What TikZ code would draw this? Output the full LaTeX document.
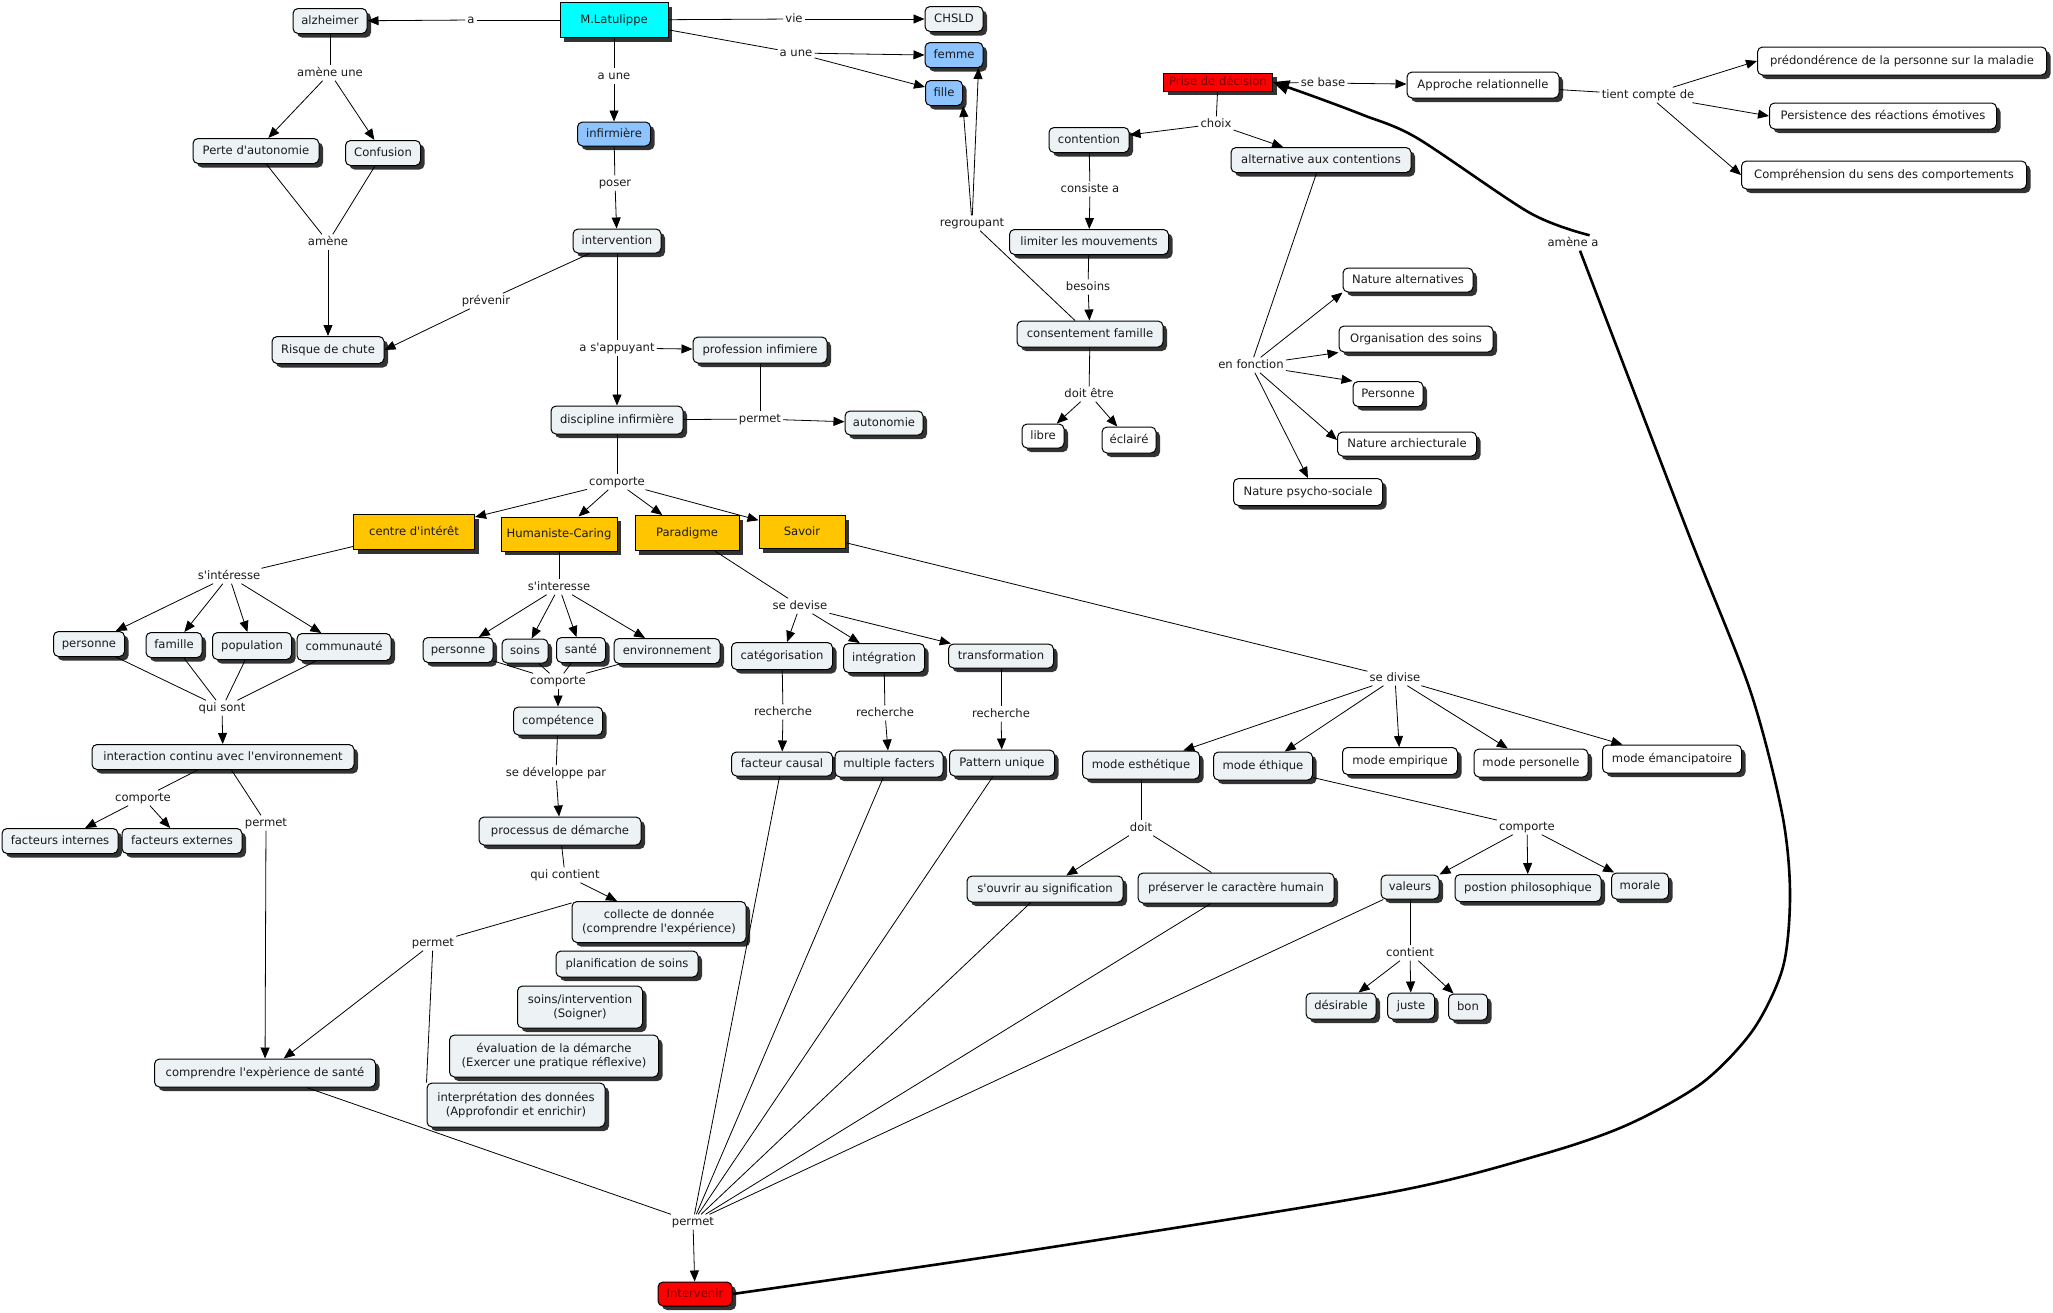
\documentclass[tikz,border=0pt]{standalone}
\usepackage{fontspec}
\newfontfamily\dvs{DejaVu Sans}
\usetikzlibrary{arrows.meta,shadows,calc}
\definecolor{lightc}{HTML}{EDF2F4}
\definecolor{bluec}{HTML}{8DC3FF}
\definecolor{orangec}{HTML}{FFC600}
\definecolor{cyanc}{HTML}{00FFFF}
\definecolor{redc}{HTML}{FF0000}
\definecolor{shadc}{HTML}{333333}
\definecolor{txtc}{HTML}{1A1A1A}
\definecolor{dredc}{HTML}{7A0000}
\newcommand\nf{\dvs\fontsize{11.6}{14}\selectfont}
\newcommand\ap{\textquotesingle{}}
\newcommand\cnode[6]{\node[#1, minimum width=#4pt, minimum height=#5pt] (#2) at (#3) {#6};}
\newcommand\lnode[3]{\node[lbl] (#1) at (#2) {#3};}
\begin{document}
\begin{tikzpicture}[x=1pt,y=-1pt,
 base/.style={draw=black, line width=1pt, font=\nf, text=txtc, inner sep=0pt,
   drop shadow={shadow xshift=4pt, shadow yshift=-4pt, fill=shadc, opacity=1}},
 sl/.style={text height=8.5pt, text depth=2.5pt},
 cpt/.style={base, sl, rounded corners=5pt, fill=lightc},
 wcpt/.style={base, sl, rounded corners=5pt, fill=white},
 bcpt/.style={base, sl, rounded corners=5pt, fill=bluec},
 mcpt/.style={base, rounded corners=5pt, fill=lightc, align=center},
 obox/.style={base, sl, fill=orangec},
 cyanbox/.style={base, sl, fill=cyanc},
 redbox/.style={base, sl, fill=redc, text=dredc},
 redr/.style={redbox, rounded corners=5pt},
 lbl/.style={font=\nf, text=txtc, inner sep=2pt, sl},
 ln/.style={line width=0.8pt, draw=black},
 arr/.style={ln, -{Triangle[length=11pt,width=9pt]}},
 thk/.style={line width=2.6pt, draw=black},
]
\fill[white] (0,0) rectangle (2053,1312);
\path[use as bounding box] (0,0) rectangle (2053,1312);

% ---------- concepts ----------
\cnode{cpt}{alz}{330,21}{74}{25}{alzheimer}
\cnode{cpt}{perte}{256,151}{126}{25}{Perte d\ap autonomie}
\cnode{cpt}{conf}{383,153}{75}{25}{Confusion}
\cnode{cpt}{risque}{328,350}{112}{27}{Risque de chute}
\cnode{cyanbox}{lat}{614,20}{108}{35}{M.Latulippe}
\cnode{cpt}{chsld}{954,19}{58}{25}{CHSLD}
\cnode{bcpt}{femme}{954,55}{58}{25}{femme}
\cnode{bcpt}{fille}{944,93}{37}{25}{fille}
\cnode{bcpt}{inf}{614,134}{73}{24}{infirmière}
\cnode{cpt}{interv}{617,241}{88}{24}{intervention}
\cnode{cpt}{prof}{760,350}{134}{26}{profession infimiere}
\cnode{cpt}{disc}{617,420}{132}{28}{discipline infirmière}
\cnode{cpt}{auto}{884,423}{78}{24}{autonomie}
\cnode{redbox}{prise}{1218,82}{109}{18}{Prise de décision}
\cnode{wcpt}{appr}{1483,85}{152}{26}{Approche relationnelle}
\cnode{wcpt}{pred}{1902,61}{289}{28}{prédondérence de la personne sur la maladie}
\cnode{wcpt}{pers}{1883,116}{227}{26}{Persistence des réactions émotives}
\cnode{wcpt}{compr}{1884,175}{285}{28}{Compréhension du sens des comportements}
\cnode{cpt}{cont}{1089,140}{80}{25}{contention}
\cnode{cpt}{alt}{1321,160}{180}{25}{alternative aux contentions}
\cnode{cpt}{lim}{1089,242}{159}{25}{limiter les mouvements}
\cnode{cpt}{cons}{1090,334}{146}{26}{consentement famille}
\cnode{wcpt}{libre}{1043,436}{42}{24}{libre}
\cnode{wcpt}{ecl}{1129,440}{54}{26}{éclairé}
\cnode{wcpt}{natalt}{1408,280}{130}{24}{Nature alternatives}
\cnode{wcpt}{org}{1416,339}{154}{26}{Organisation des soins}
\cnode{wcpt}{persn}{1388,394}{70}{25}{Personne}
\cnode{wcpt}{natarc}{1407,444}{139}{24}{Nature archiecturale}
\cnode{wcpt}{natpsy}{1308,492}{149}{27}{Nature psycho-sociale}
\cnode{obox}{centre}{414,532}{121}{35}{centre d\ap intérêt}
\cnode{obox}{hum}{559,534}{116}{34}{Humaniste-Caring}
\cnode{obox}{para}{687,533}{104}{35}{Paradigme}
\cnode{obox}{savoir}{802,532}{86}{33}{Savoir}
\cnode{cpt}{pa}{89,644}{71}{25}{personne}
\cnode{cpt}{fam}{174,645}{56}{25}{famille}
\cnode{cpt}{pop}{252,646}{79}{27}{population}
\cnode{cpt}{comm}{344,647}{94}{27}{communauté}
\cnode{cpt}{inter}{223,757}{262}{25}{interaction continu avec l\ap environnement}
\cnode{cpt}{fint}{60,841}{116}{25}{facteurs internes}
\cnode{cpt}{fext}{182,841}{120}{25}{facteurs externes}
\cnode{cpt}{csante}{265,1073}{221}{28}{comprendre l\ap expèrience de santé}
\cnode{cpt}{pb}{458,650}{70}{25}{personne}
\cnode{cpt}{soins}{525,651}{46}{24}{soins}
\cnode{cpt}{sante}{581,650}{49}{25}{santé}
\cnode{cpt}{env}{667,651}{106}{25}{environnement}
\cnode{cpt}{compet}{558,721}{89}{28}{compétence}
\cnode{cpt}{proc}{560,831}{162}{28}{processus de démarche}
\cnode{mcpt}{coll}{659,922}{174}{41}{collecte de donnée\\(comprendre l\ap expérience)}
\cnode{cpt}{plan}{627,964}{142}{26}{planification de soins}
\cnode{mcpt}{soinsint}{580,1007}{125}{42}{soins/intervention\\(Soigner)}
\cnode{mcpt}{eval}{554,1056}{209}{42}{évaluation de la démarche\\(Exercer une pratique réflexive)}
\cnode{mcpt}{interp}{516,1105}{178}{44}{interprétation des données\\(Approfondir et enrichir)}
\cnode{cpt}{categ}{782,656}{101}{27}{catégorisation}
\cnode{cpt}{integ}{884,658}{81}{29}{intégration}
\cnode{cpt}{transf}{1001,656}{105}{24}{transformation}
\cnode{cpt}{fcaus}{782,764}{101}{24}{facteur causal}
\cnode{cpt}{mult}{889,764}{108}{26}{multiple facters}
\cnode{cpt}{patt}{1002,763}{105}{26}{Pattern unique}
\cnode{cpt}{mesth}{1141,765}{117}{28}{mode esthétique}
\cnode{cpt}{meth}{1263,766}{99}{28}{mode éthique}
\cnode{wcpt}{memp}{1400,761}{115}{27}{mode empirique}
\cnode{wcpt}{mpers}{1531,763}{114}{28}{mode personelle}
\cnode{wcpt}{meman}{1672,759}{139}{28}{mode émancipatoire}
\cnode{cpt}{souv}{1045,889}{156}{26}{s\ap ouvrir au signification}
\cnode{cpt}{pres}{1236,888}{196}{30}{préserver le caractère humain}
\cnode{cpt}{val}{1410,887}{58}{24}{valeurs}
\cnode{cpt}{postion}{1528,888}{146}{27}{postion philosophique}
\cnode{cpt}{morale}{1640,886}{57}{26}{morale}
\cnode{cpt}{desir}{1341,1006}{70}{26}{désirable}
\cnode{cpt}{juste}{1411,1006}{47}{26}{juste}
\cnode{cpt}{bon}{1468,1007}{39}{26}{bon}
\cnode{redr}{intervenir}{695,1294}{74}{24}{Intervenir}

% ---------- linking phrases ----------
\lnode{la}{471,20}{a}
\lnode{lvie}{794,19}{vie}
\lnode{laune1}{796,53}{a une}
\lnode{laune2}{614,76}{a une}
\lnode{lamune}{330,73}{amène une}
\lnode{lamene}{328,242}{amène}
\lnode{lposer}{615,183}{poser}
\lnode{lprev}{486,301}{prévenir}
\lnode{lappuy}{617,348}{a s\ap appuyant}
\lnode{lpermet1}{760,419}{permet}
\lnode{lcomp1}{617,482}{comporte}
\lnode{lregroup}{972,223}{regroupant}
\lnode{lchoix}{1216,124}{choix}
\lnode{lsebase}{1323,83}{se base}
\lnode{ltient}{1648,95}{tient compte de}
\lnode{lamenea}{1573,243}{amène a}
\lnode{lconsiste}{1090,189}{consiste a}
\lnode{lbesoins}{1088,287}{besoins}
\lnode{ldoitetre}{1089,394}{doit être}
\lnode{lenf}{1251,365}{en fonction}
\lnode{lsint1}{229,576}{s\ap intéresse}
\lnode{lquisont}{222,708}{qui sont}
\lnode{lcomp2}{143,798}{comporte}
\lnode{lpermet2}{266,823}{permet}
\lnode{lsint2}{559,587}{s\ap interesse}
\lnode{lcomp3}{558,681}{comporte}
\lnode{lsedev}{556,773}{se développe par}
\lnode{lquicont}{565,875}{qui contient}
\lnode{lpermet3}{433,943}{permet}
\lnode{lsedevise}{800,606}{se devise}
\lnode{lrech1}{783,712}{recherche}
\lnode{lrech2}{885,713}{recherche}
\lnode{lrech3}{1001,714}{recherche}
\lnode{lsedivise}{1395,678}{se divise}
\lnode{ldoit}{1141,828}{doit}
\lnode{lcomp4}{1527,827}{comporte}
\lnode{lcontient}{1410,953}{contient}
\lnode{lpermet4}{693,1222}{permet}

% ---------- connectors ----------
\draw[ln] (lat) -- (la); \draw[arr] (la) -- (alz);
\draw[ln] (lat) -- (lvie); \draw[arr] (lvie) -- (chsld);
\draw[ln] (lat) -- (laune1); \draw[arr] (laune1) -- (femme.west); \draw[arr] (laune1) -- ([yshift=6pt]fille.west);
\draw[ln] (lat) -- (laune2); \draw[arr] (laune2) -- (inf);
\draw[ln] (inf) -- (lposer); \draw[arr] (lposer) -- (interv);
\draw[ln] (interv) -- (lprev); \draw[arr] (lprev) -- (risque.east);
\draw[ln] (interv) -- (lappuy); \draw[arr] (lappuy) -- (disc); \draw[arr] (lappuy) -- (prof);
\draw[ln] (prof) -- (lpermet1); \draw[ln] (disc) -- (lpermet1); \draw[arr] (lpermet1) -- (auto);
\draw[ln] (disc) -- (lcomp1);
\draw[arr] (lcomp1) -- (centre); \draw[arr] (lcomp1) -- (hum); \draw[arr] (lcomp1) -- (para); \draw[arr] (lcomp1) -- (savoir);

\draw[ln] (alz) -- (lamune); \draw[arr] (lamune) -- (perte); \draw[arr] (lamune) -- (conf);
\draw[ln] (perte) -- (lamene); \draw[ln] (conf) -- (lamene); \draw[arr] (lamene) -- (risque);

\draw[ln] ([xshift=-15pt]cons.north) -- (lregroup);
\draw[arr] (lregroup) -- (fille.south east); \draw[arr] (lregroup) -- ([xshift=-5pt]femme.south east);

\draw[ln] (prise) -- (lchoix); \draw[arr] (lchoix) -- (cont); \draw[arr] (lchoix) -- (alt);
\draw[ln] (prise) -- (lsebase); \draw[arr] (lsebase) -- (appr);
\draw[ln] (appr) -- (ltient);
\draw[arr] (ltient) -- (pred.west); \draw[arr] (ltient) -- (pers.west); \draw[arr] (ltient) -- (compr.west);
\draw[ln] (cont) -- (lconsiste); \draw[arr] (lconsiste) -- (lim);
\draw[ln] (lim) -- (lbesoins); \draw[arr] (lbesoins) -- (cons);
\draw[ln] (cons) -- (ldoitetre); \draw[arr] (ldoitetre) -- (libre); \draw[arr] (ldoitetre) -- (ecl);
\draw[ln] (alt) -- (lenf);
\draw[arr] (lenf) -- (natalt.south west); \draw[arr] (lenf) -- (org.south west);
\draw[arr] (lenf) -- (persn.north west); \draw[arr] (lenf) -- ([yshift=4pt]natarc.west);
\draw[arr] (lenf) -- (natpsy.north);

\draw[ln] (centre) -- (lsint1);
\draw[arr] (lsint1) -- (pa); \draw[arr] (lsint1) -- (fam); \draw[arr] (lsint1) -- (pop); \draw[arr] (lsint1) -- (comm);
\draw[ln] (pa) -- (lquisont); \draw[ln] (fam) -- (lquisont); \draw[ln] (pop) -- (lquisont); \draw[ln] (comm) -- (lquisont);
\draw[arr] (lquisont) -- (inter);
\draw[ln] (inter) -- (lcomp2); \draw[arr] (lcomp2) -- (fint); \draw[arr] (lcomp2) -- (fext);
\draw[ln] (inter) -- (lpermet2); \draw[arr] (lpermet2) -- (csante);

\draw[ln] (hum) -- (lsint2);
\draw[arr] (lsint2) -- (pb); \draw[arr] (lsint2) -- (soins); \draw[arr] (lsint2) -- (sante); \draw[arr] (lsint2) -- (env);
\draw[ln] (pb) -- (lcomp3); \draw[ln] (soins) -- (lcomp3); \draw[ln] (sante) -- (lcomp3); \draw[ln] (env) -- (lcomp3);
\draw[arr] (lcomp3) -- (compet);
\draw[ln] (compet) -- (lsedev); \draw[arr] (lsedev) -- (proc);
\draw[ln] (proc) -- (lquicont); \draw[arr] (lquicont) -- (coll);
\draw[ln] ([yshift=-2pt]coll.north west) -- (lpermet3);
\draw[ln] (interp.north west) -- (lpermet3);
\draw[arr] (lpermet3) -- (csante);

\draw[ln] (para) -- (lsedevise);
\draw[arr] (lsedevise) -- (categ); \draw[arr] (lsedevise) -- (integ); \draw[arr] (lsedevise) -- (transf);
\draw[ln] (categ) -- (lrech1); \draw[arr] (lrech1) -- (fcaus);
\draw[ln] (integ) -- (lrech2); \draw[arr] (lrech2) -- (mult);
\draw[ln] (transf) -- (lrech3); \draw[arr] (lrech3) -- (patt);

\draw[ln] (savoir) -- (lsedivise);
\draw[arr] (lsedivise) -- (mesth); \draw[arr] (lsedivise) -- (meth); \draw[arr] (lsedivise) -- (memp);
\draw[arr] (lsedivise) -- (mpers); \draw[arr] (lsedivise) -- (meman);
\draw[ln] (mesth) -- (ldoit); \draw[arr] (ldoit) -- (souv); \draw[ln] (pres) -- (ldoit);
\draw[ln] (meth) -- (lcomp4);
\draw[arr] (lcomp4) -- (val.north east); \draw[arr] (lcomp4) -- (postion); \draw[arr] (lcomp4) -- (morale);
\draw[ln] (val) -- (lcontient);
\draw[arr] (lcontient) -- (desir); \draw[arr] (lcontient) -- (juste); \draw[arr] (lcontient) -- (bon);

\draw[ln] (csante) -- (lpermet4); \draw[ln] (fcaus) -- (lpermet4); \draw[ln] (mult) -- (lpermet4);
\draw[ln] (patt) -- (lpermet4); \draw[ln] (souv) -- (lpermet4); \draw[ln] (pres) -- (lpermet4);
\draw[ln] (val) -- (lpermet4);
\draw[arr] (lpermet4) -- (intervenir);

% thick link Intervenir -> amène a -> Prise de décision
\draw[thk] plot[smooth, tension=0.5] coordinates {(intervenir.east) (1020,1252) (1387,1193) (1540,1155)
  (1627,1125) (1702,1083) (1753,1030) (1783,967) (1790,893) (1782,813) (1750,690) (1687,530) ([xshift=7pt]lamenea.south)};
\draw[thk, -{Triangle[length=16pt,width=14pt]}] plot[smooth, tension=0.5] coordinates {([xshift=-11pt]lamenea.north east)
  (1530,213) (1417,138) (1363,115) (1318,98) (prise.east)};
\end{tikzpicture}
\end{document}
